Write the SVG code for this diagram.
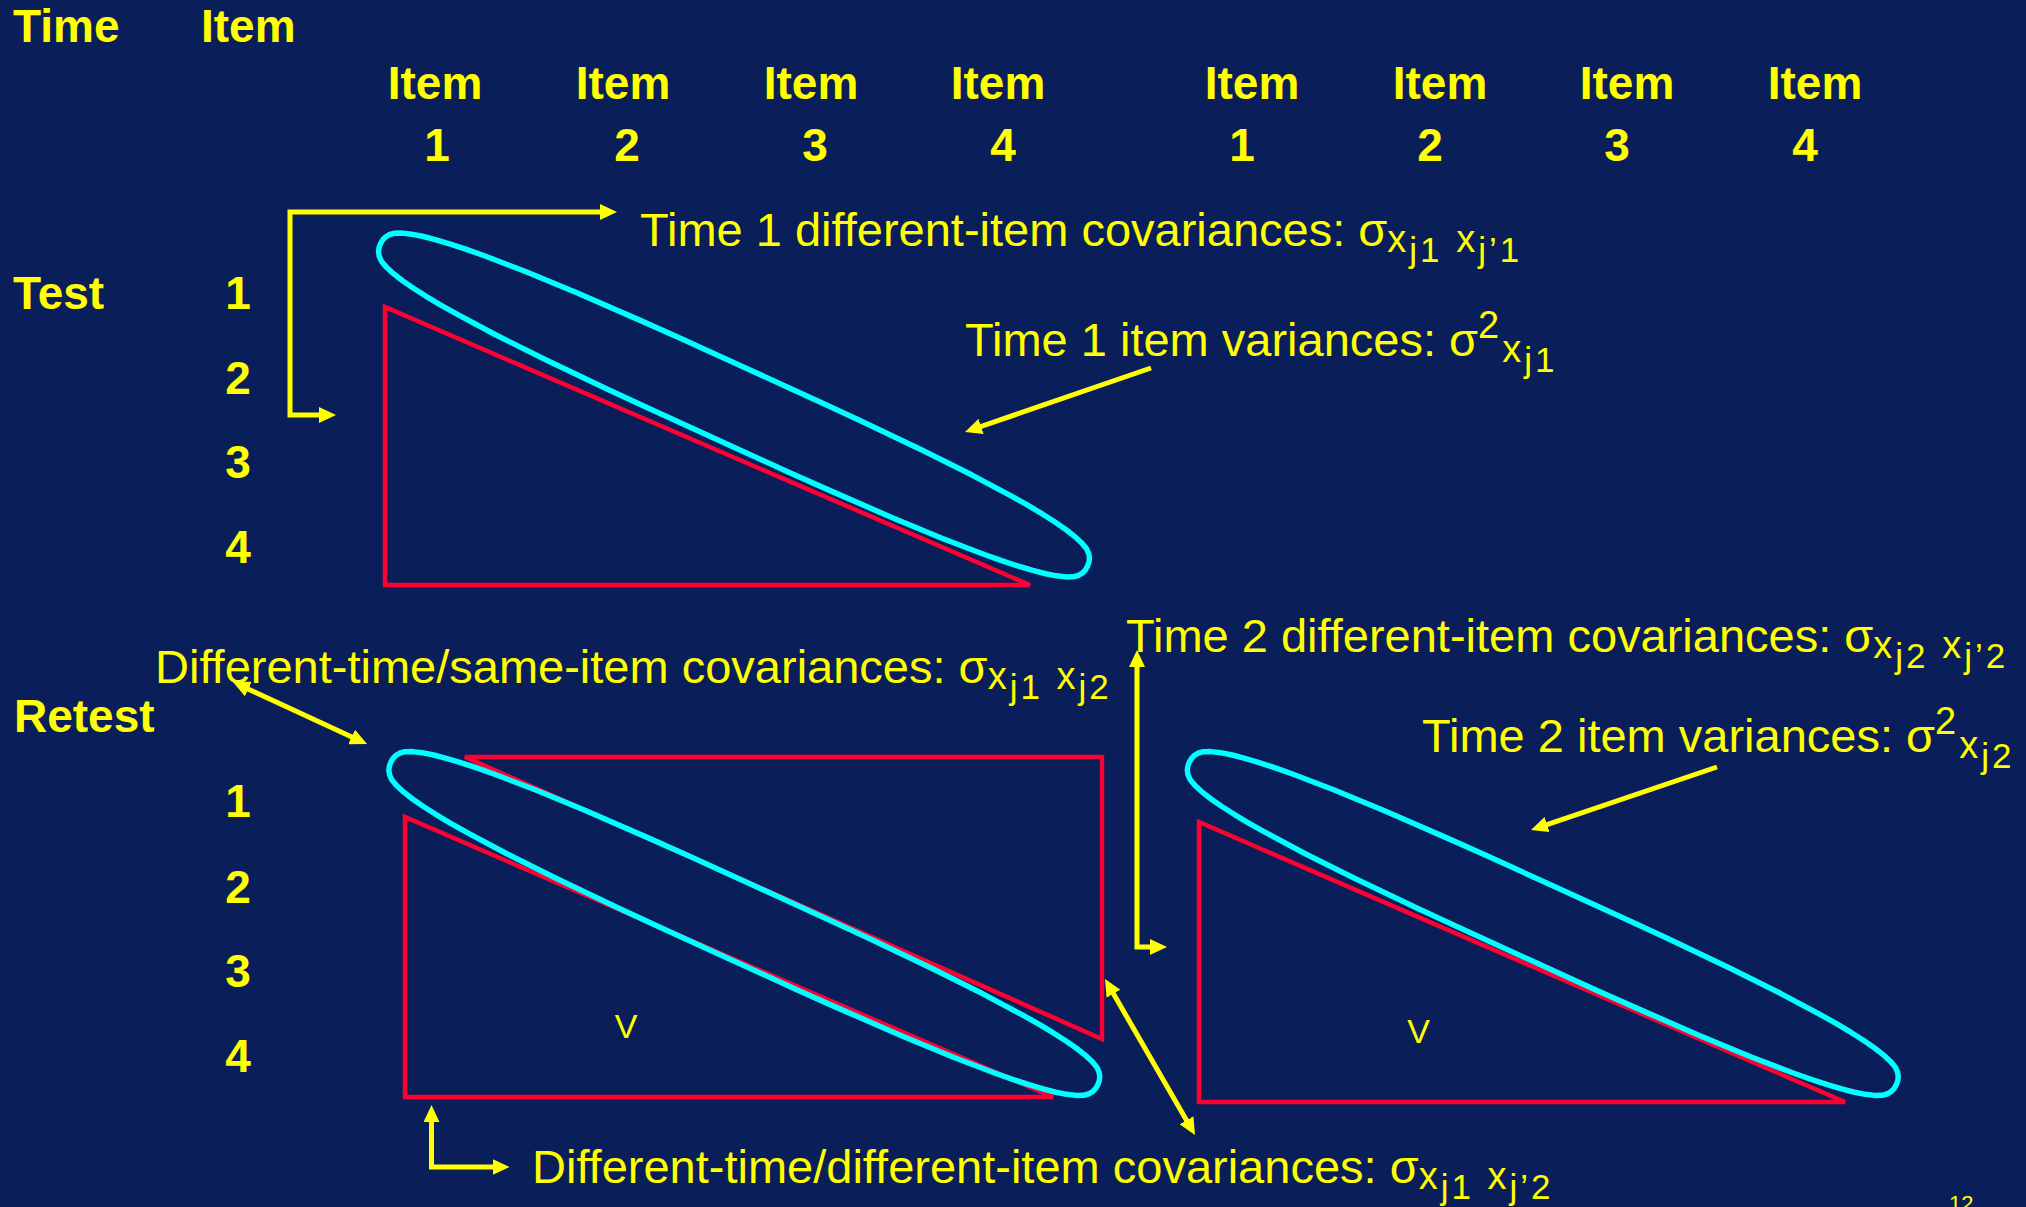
<svg xmlns="http://www.w3.org/2000/svg" width="2026" height="1207" viewBox="0 0 2026 1207">
<style>
text{font-family:"Liberation Sans",Arial,sans-serif;fill:#ffff00}
.b{font-weight:bold;font-size:46px}
.c{text-anchor:middle}
.l{font-size:47px}
.s1{font-size:38px;letter-spacing:3px}
.s2{font-size:35px;letter-spacing:3px}
.v{font-size:34px;text-anchor:middle}
.tri{fill:none;stroke:#ff0033;stroke-width:4.5}
.ell{fill:none;stroke:#00ffff;stroke-width:5.5;stroke-linejoin:round}
.con{fill:none;stroke:#ffff00;stroke-width:5;marker-end:url(#ah)}
.dbl{marker-start:url(#ah)}
</style>
<defs>
<marker id="ah" markerUnits="userSpaceOnUse" markerWidth="17" markerHeight="16" viewBox="0 0 17 16" refX="11" refY="8" orient="auto-start-reverse"><path d="M0,0L17,8L0,16z" fill="#ffff00"/></marker>
<path id="band" d="M392.5,0 L392.1,4.3 L390.8,8.2 L388.3,11.9 L384,15.6 L377,18.8 L368,21.7 L357.1,24.3 L344,26.6 L329,28.7 L311.9,30.6 L292.7,32.2 L247.6,35 L192.1,36.9 L122.3,38.1 L77.2,38.4 L0,38.5 L-77.2,38.4 L-122.3,38.1 L-192.1,36.9 L-247.6,35 L-292.7,32.2 L-311.9,30.6 L-329,28.7 L-344,26.6 L-357.1,24.3 L-368,21.7 L-377,18.8 L-384,15.6 L-388.3,11.9 L-390.8,8.2 L-392.1,4.3 L-392.5,0 L-392.1,-4.3 L-390.8,-8.2 L-388.3,-11.9 L-384,-15.6 L-377,-18.8 L-368,-21.7 L-357.1,-24.3 L-344,-26.6 L-329,-28.7 L-311.9,-30.6 L-292.7,-32.2 L-247.6,-35 L-192.1,-36.9 L-122.3,-38.1 L-77.2,-38.4 L0,-38.5 L77.2,-38.4 L122.3,-38.1 L192.1,-36.9 L247.6,-35 L292.7,-32.2 L311.9,-30.6 L329,-28.7 L344,-26.6 L357.1,-24.3 L368,-21.7 L377,-18.8 L384,-15.6 L388.3,-11.9 L390.8,-8.2 L392.1,-4.3 Z"/>
</defs>
<rect width="2026" height="1207" fill="#0a1e5a"/>
<g id="headers">
<text class="b" x="13" y="42">Time</text>
<text class="b" x="201" y="42">Item</text>
<text class="b c" x="435" y="99">Item</text>
<text class="b c" x="623" y="99">Item</text>
<text class="b c" x="811" y="99">Item</text>
<text class="b c" x="998" y="99">Item</text>
<text class="b c" x="1252" y="99">Item</text>
<text class="b c" x="1440" y="99">Item</text>
<text class="b c" x="1627" y="99">Item</text>
<text class="b c" x="1815" y="99">Item</text>
<text class="b c" x="437" y="161">1</text>
<text class="b c" x="627" y="161">2</text>
<text class="b c" x="815" y="161">3</text>
<text class="b c" x="1003" y="161">4</text>
<text class="b c" x="1242" y="161">1</text>
<text class="b c" x="1430" y="161">2</text>
<text class="b c" x="1617" y="161">3</text>
<text class="b c" x="1805" y="161">4</text>
</g>
<g id="rows">
<text class="b" x="13" y="309">Test</text>
<text class="b c" x="238" y="309">1</text>
<text class="b c" x="238" y="394">2</text>
<text class="b c" x="238" y="478">3</text>
<text class="b c" x="238" y="563">4</text>
<text class="b" x="14" y="732">Retest</text>
<text class="b c" x="238" y="817">1</text>
<text class="b c" x="238" y="903">2</text>
<text class="b c" x="238" y="987">3</text>
<text class="b c" x="238" y="1072">4</text>
</g>
<g id="matrix-time1">
<polygon class="tri" points="385,307 385,585 1030,585"/>
<use href="#band" class="ell" transform="translate(734 405) rotate(24.5) scale(0.99 1)"/>
</g>
<g id="matrix-cross">
<polygon class="tri" points="405,817 405,1097 1053,1097"/>
<polygon class="tri" points="465,757 1102,757 1102,1039"/>
<use href="#band" class="ell" transform="translate(744.3 923.5) rotate(24.5) scale(0.99 1)"/>
<text class="v" x="626" y="1038">V</text>
</g>
<g id="matrix-time2">
<polygon class="tri" points="1199,822 1199,1102 1845,1102"/>
<use href="#band" class="ell" transform="translate(1542.8 923.5) rotate(24.5) scale(0.99 1)"/>
<text class="v" x="1418.5" y="1043">V</text>
</g>
<g id="labels">
<text id="lbl-t1cov" class="l" x="640" y="246">Time 1 different-item covariances: σ<tspan class="s1" dy="6">x</tspan><tspan class="s2" dy="10">j1</tspan><tspan class="s1" dy="-10"> x</tspan><tspan class="s2" dy="10">j’1</tspan></text>
<text id="lbl-t1var" class="l" x="965" y="356">Time 1 item variances: σ<tspan class="s1" dy="-18">2</tspan><tspan class="s1" dy="24">x</tspan><tspan class="s2" dy="10">j1</tspan></text>
<text id="lbl-dtsi" class="l" x="155" y="683">Different-time/same-item covariances: σ<tspan class="s1" dy="6">x</tspan><tspan class="s2" dy="10">j1</tspan><tspan class="s1" dy="-10"> x</tspan><tspan class="s2" dy="10">j2</tspan></text>
<text id="lbl-t2cov" class="l" x="1126" y="652">Time 2 different-item covariances: σ<tspan class="s1" dy="6">x</tspan><tspan class="s2" dy="10">j2</tspan><tspan class="s1" dy="-10"> x</tspan><tspan class="s2" dy="10">j’2</tspan></text>
<text id="lbl-t2var" class="l" x="1422" y="752">Time 2 item variances: σ<tspan class="s1" dy="-18">2</tspan><tspan class="s1" dy="24">x</tspan><tspan class="s2" dy="10">j2</tspan></text>
<text id="lbl-dtdi" class="l" x="532" y="1183">Different-time/different-item covariances: σ<tspan class="s1" dy="6">x</tspan><tspan class="s2" dy="10">j1</tspan><tspan class="s1" dy="-10"> x</tspan><tspan class="s2" dy="10">j’2</tspan></text>
<text id="pagenum" x="1949" y="1211" style="font-size:22px">12</text>
</g>
<g id="connectors">
<path class="con dbl" d="M611,212 L290,212 L290,415 L330,415"/>
<path class="con" d="M1151,368 L970.7,430"/>
<path class="con dbl" d="M238.4,684.5 L361.6,741.5"/>
<path class="con dbl" d="M1137,656 L1137,947 L1161,947"/>
<path class="con" d="M1717,767 L1536.7,828.1"/>
<path class="con dbl" d="M1108,984.2 L1192,1129.8"/>
<path class="con dbl" d="M431.5,1111 L431.5,1167 L503.6,1167"/>
</g>
</svg>
